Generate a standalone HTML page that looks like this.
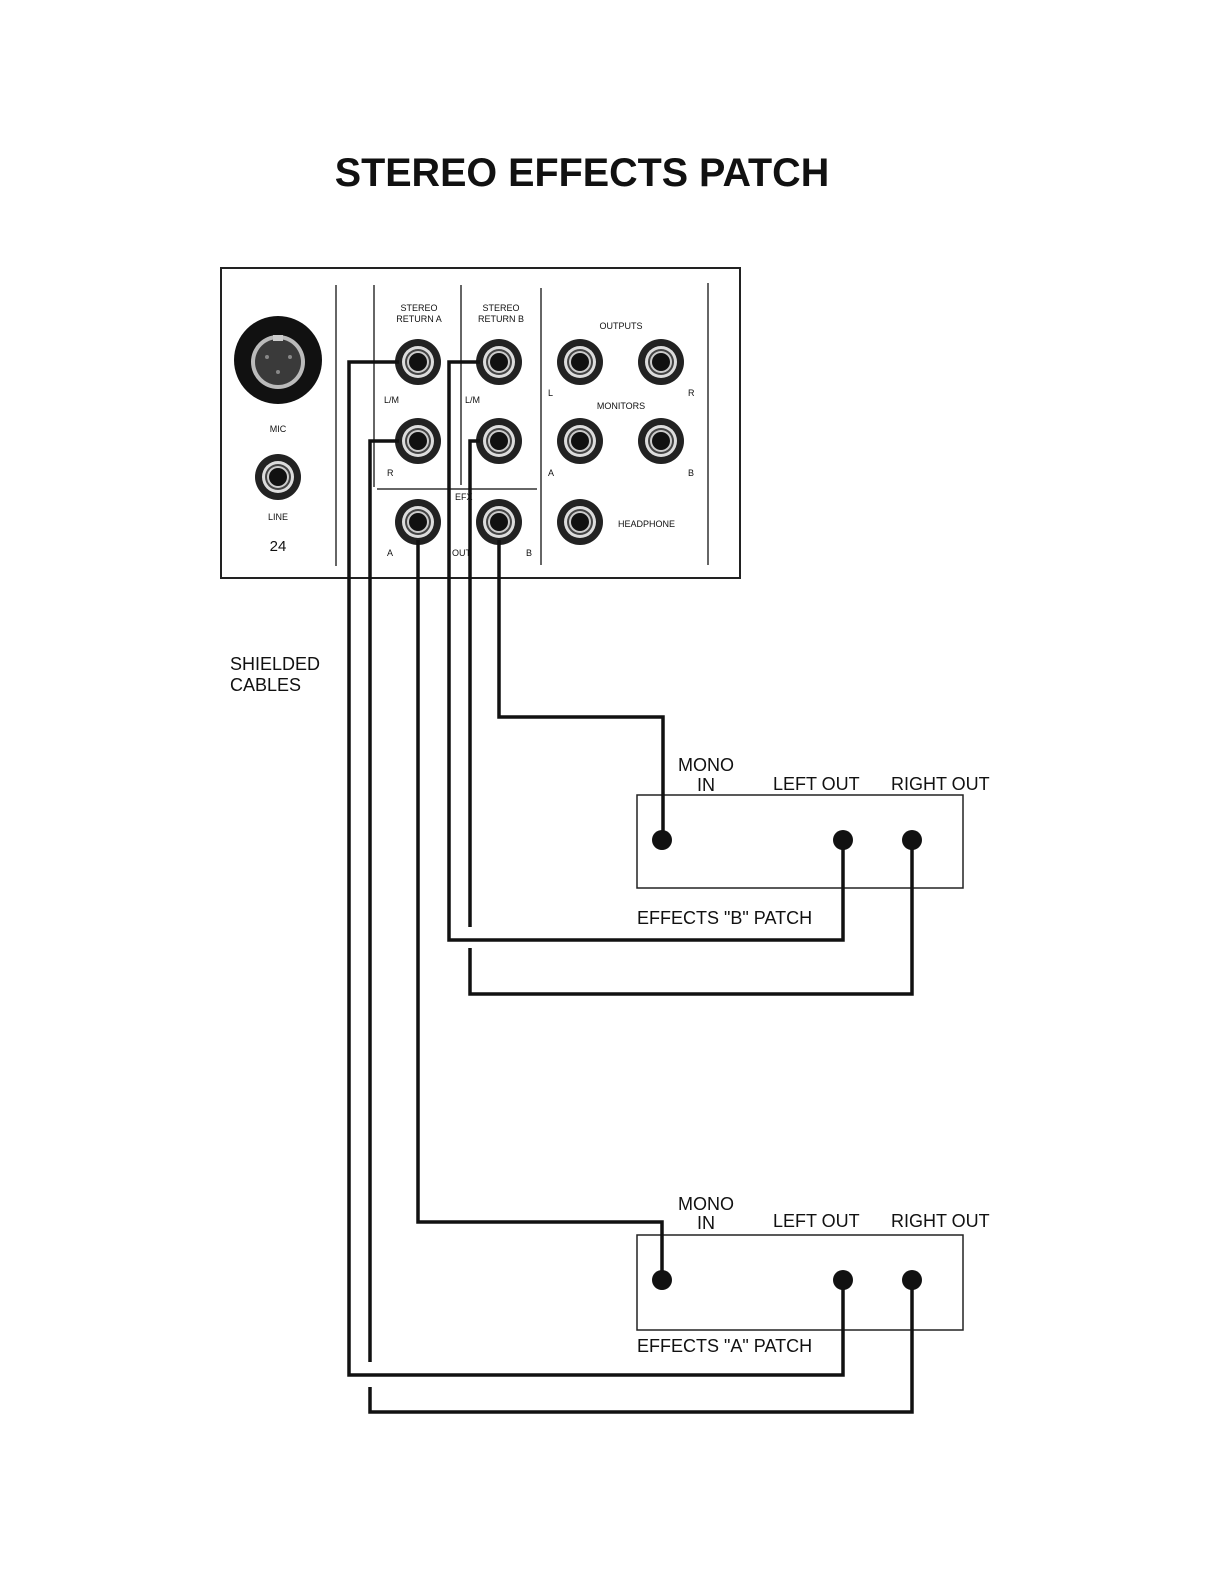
<!DOCTYPE html>
<html><head><meta charset="utf-8"><style>
html,body{margin:0;padding:0;background:#fff;}
svg{display:block;}
text{font-family:"Liberation Sans",Arial,sans-serif;fill:#111;}
</style></head><body>
<svg width="1224" height="1584" viewBox="0 0 1224 1584" xmlns="http://www.w3.org/2000/svg">
<defs>
<g id="jack">
<circle r="23" fill="#222"/>
<circle r="16" fill="#ddd"/>
<circle r="13" fill="#444"/>
<circle r="11" fill="#ccc"/>
<circle r="9" fill="#111"/>
</g>
</defs>
<text x="582" y="186" text-anchor="middle" font-size="39.5" font-weight="bold">STEREO EFFECTS PATCH</text>

<!-- panel -->
<rect x="221" y="268" width="519" height="310" fill="#fff" stroke="#222" stroke-width="2"/>
<g stroke="#333" stroke-width="1.5">
<line x1="336" y1="285" x2="336" y2="566"/>
<line x1="374" y1="285" x2="374" y2="487"/>
<line x1="461" y1="285" x2="461" y2="485"/>
<line x1="541" y1="288" x2="541" y2="565"/>
<line x1="708" y1="283" x2="708" y2="565"/>
<line x1="377" y1="489" x2="537" y2="489"/>
</g>
<!-- mic -->
<circle cx="278" cy="360" r="44" fill="#111"/>
<circle cx="278" cy="362" r="27" fill="#bbb"/>
<circle cx="278" cy="362" r="23" fill="#3a3a3a"/>
<rect x="273" y="335" width="10" height="6" fill="#ccc"/>
<g fill="#888"><circle cx="267" cy="357" r="2"/><circle cx="290" cy="357" r="2"/><circle cx="278" cy="372" r="2"/></g>
<use href="#jack" x="278" y="477"/>
<use href="#jack" x="418" y="362"/><use href="#jack" x="499" y="362"/>
<use href="#jack" x="580" y="362"/><use href="#jack" x="661" y="362"/>
<use href="#jack" x="418" y="441"/><use href="#jack" x="499" y="441"/>
<use href="#jack" x="580" y="441"/><use href="#jack" x="661" y="441"/>
<use href="#jack" x="418" y="522"/><use href="#jack" x="499" y="522"/>
<use href="#jack" x="580" y="522"/>
<g font-size="9" fill="#555">
<text x="419" y="311" text-anchor="middle">STEREO</text>
<text x="419" y="322" text-anchor="middle">RETURN A</text>
<text x="501" y="311" text-anchor="middle">STEREO</text>
<text x="501" y="322" text-anchor="middle">RETURN B</text>
<text x="621" y="329" text-anchor="middle">OUTPUTS</text>
<text x="621" y="409" text-anchor="middle">MONITORS</text>
<text x="384" y="403">L/M</text><text x="465" y="403">L/M</text>
<text x="387" y="476">R</text>
<text x="548" y="396">L</text><text x="688" y="396">R</text>
<text x="548" y="476">A</text><text x="688" y="476">B</text>
<text x="278" y="432" text-anchor="middle">MIC</text>
<text x="278" y="520" text-anchor="middle">LINE</text>
<text x="455" y="500">EFX</text>
<text x="387" y="556">A</text><text x="452" y="556">OUT</text><text x="526" y="556">B</text>
<text x="618" y="527">HEADPHONE</text>
</g>
<text x="278" y="551" text-anchor="middle" font-size="15" fill="#333">24</text>

<text x="230" y="670" font-size="18">SHIELDED</text>
<text x="230" y="691" font-size="18">CABLES</text>

<!-- boxes -->
<rect x="637" y="795" width="326" height="93" fill="none" stroke="#222" stroke-width="1.5"/>
<rect x="637" y="1235" width="326" height="95" fill="none" stroke="#222" stroke-width="1.5"/>

<!-- cables -->
<g fill="none" stroke="#111" stroke-width="3.5">
<polyline points="399,362 349,362 349,1375 843,1375 843,1280"/>
<polyline points="399,441 370,441 370,1362"/>
<polyline points="370,1387 370,1412 912,1412 912,1280"/>
<polyline points="480,362 449,362 449,940 843,940 843,840"/>
<polyline points="480,441 470,441 470,927"/>
<polyline points="470,948 470,994 912,994 912,840"/>
<polyline points="418,540 418,1222 662,1222 662,1280"/>
<polyline points="499,540 499,717 663,717 663,840"/>
</g>
<g fill="#111">
<circle cx="662" cy="840" r="10"/><circle cx="843" cy="840" r="10"/><circle cx="912" cy="840" r="10"/>
<circle cx="662" cy="1280" r="10"/><circle cx="843" cy="1280" r="10"/><circle cx="912" cy="1280" r="10"/>
</g>

<g font-size="18">
<text x="706" y="771" text-anchor="middle">MONO</text>
<text x="706" y="791" text-anchor="middle">IN</text>
<text x="773" y="790">LEFT OUT</text>
<text x="891" y="790">RIGHT OUT</text>
<text x="637" y="924">EFFECTS "B" PATCH</text>
<text x="706" y="1210" text-anchor="middle">MONO</text>
<text x="706" y="1229" text-anchor="middle">IN</text>
<text x="773" y="1227">LEFT OUT</text>
<text x="891" y="1227">RIGHT OUT</text>
<text x="637" y="1352">EFFECTS "A" PATCH</text>
</g>
</svg>
</body></html>
